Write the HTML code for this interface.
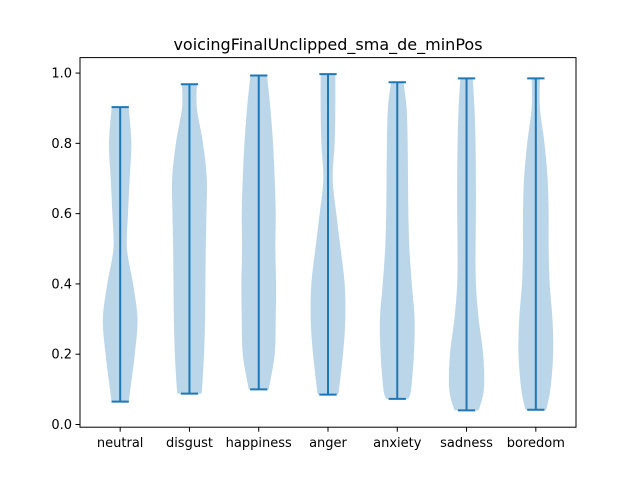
<!DOCTYPE html>
<html><head><meta charset="utf-8"><style>
body{margin:0;background:#fff}
svg text{font-family:"DejaVu Sans","Liberation Sans",sans-serif;fill:#000}
</style></head><body>
<svg id="chart" width="640" height="480">
<rect width="640" height="480" fill="#fff"/>
<text x="328" y="50" font-size="16" text-anchor="middle">voicingFinalUnclipped_sma_de_minPos</text>
<g id="violins"></g>
<g id="axes"></g>
</svg>
<script>
const categories=["neutral","disgust","happiness","anger","anxiety","sadness","boredom"];
const mins=[0.065,0.088,0.100,0.085,0.073,0.040,0.042];
const maxs=[0.903,0.968,0.993,0.997,0.974,0.985,0.985];
const minDensity=[25,35,30,30,32,35,30];
const maxDensity=[25,22,25,22,18,18,12];
const gridLevels=[0.1,0.2,0.3,0.4,0.5,0.6,0.7,0.8,0.9];
const densNeutral=[30,43,51,38,20,23,28,33,28];
const densDisgust=[37,43,46,47,48,50,51,40,22];
const densHappiness=[30,48,51,52,50,51,48,43,35];
const densAnger=[33,45,52,50,38,25,14,20,22];
const densAnxiety=[40,48,50,42,35,32,31,30,27];
const densSadness=[50,48,35,27,26,27,27,26,23];
const densBoredom=[42,50,48,40,37,37,34,25,12];
const densities=[densNeutral,densDisgust,densHappiness,densAnger,densAnxiety,densSadness,densBoredom];
const yTicks=[0.0,0.2,0.4,0.6,0.8,1.0];
const yTickLabels=["0.0","0.2","0.4","0.6","0.8","1.0"];

const L=80,R=576,T=57.6,B=427.2;
const xMin=0.42,xMax=7.58,yMin=-0.0077,yMax=1.044;
const sx=v=>L+(v-xMin)/(xMax-xMin)*(R-L);
const sy=v=>B-(v-yMin)/(yMax-yMin)*(B-T);
const NS="http://www.w3.org/2000/svg";
function mk(tag,attrs,parent){const e=document.createElementNS(NS,tag);for(const k in attrs)e.setAttribute(k,attrs[k]);parent.appendChild(e);return e;}
const vg=document.getElementById('violins'),ag=document.getElementById('axes');
const blue="#1f77b4";
function smooth(pts){
  let d="M"+pts[0][0]+","+pts[0][1];
  for(let i=0;i<pts.length-1;i++){
    const p0=pts[Math.max(0,i-1)],p1=pts[i],p2=pts[i+1],p3=pts[Math.min(pts.length-1,i+2)];
    const c1=[p1[0]+(p2[0]-p0[0])/6,p1[1]+(p2[1]-p0[1])/6];
    const c2=[p2[0]-(p3[0]-p1[0])/6,p2[1]-(p3[1]-p1[1])/6];
    d+=" C"+c1[0]+","+c1[1]+" "+c2[0]+","+c2[1]+" "+p2[0]+","+p2[1];
  }
  return d;
}
categories.forEach((c,i)=>{
  const pos=i+1;
  const lv=[mins[i]],dv=[minDensity[i]];
  gridLevels.forEach((g,j)=>{if(g>mins[i]+0.005&&g<maxs[i]-0.005){lv.push(g);dv.push(densities[i][j]);}});
  lv.push(maxs[i]);dv.push(maxDensity[i]);
  const m=Math.max(...dv);
  const right=lv.map((v,k)=>[sx(pos+0.25*dv[k]/m),sy(v)]);
  const left=lv.map((v,k)=>[sx(pos-0.25*dv[k]/m),sy(v)]).reverse();
  let d=smooth(right)+" L"+left[0][0]+","+left[0][1]+smooth(left).replace(/^M[^ ]+/,"")+" Z";
  const p=mk('path',{d:d,fill:blue,'fill-opacity':0.3,stroke:'none'},vg);
  
  
  const x=sx(pos);
  const ln=mk('line',{x1:x,x2:x,y1:sy(mins[i]),y2:sy(maxs[i]),stroke:blue,'stroke-width':2},vg);
  
  
  [mins[i],maxs[i]].forEach((v,k)=>{
    const cap=mk('line',{x1:sx(pos-0.125),x2:sx(pos+0.125),y1:sy(v),y2:sy(v),stroke:blue,'stroke-width':2},vg);
    
    
  });
  const t=mk('line',{x1:x,x2:x,y1:B,y2:B+4.5,stroke:'#000','stroke-width':1},ag);
  
  
  const tl=mk('text',{x:x,y:B+20,'font-size':13,'text-anchor':'middle'},ag);
  tl.textContent=c;
  
  
});
yTicks.forEach((v,i)=>{
  const y=sy(v);
  const t=mk('line',{x1:L-4.5,x2:L,y1:y,y2:y,stroke:'#000','stroke-width':1},ag);
  
  
  const tl=mk('text',{x:L-8,y:y+4.5,'font-size':13,'text-anchor':'end'},ag);
  tl.textContent=yTickLabels[i];
  
  
});
const fr=mk('rect',{x:L,y:T,width:R-L,height:B-T,fill:'none',stroke:'#000','stroke-width':1},ag);


</script>
</body></html>
